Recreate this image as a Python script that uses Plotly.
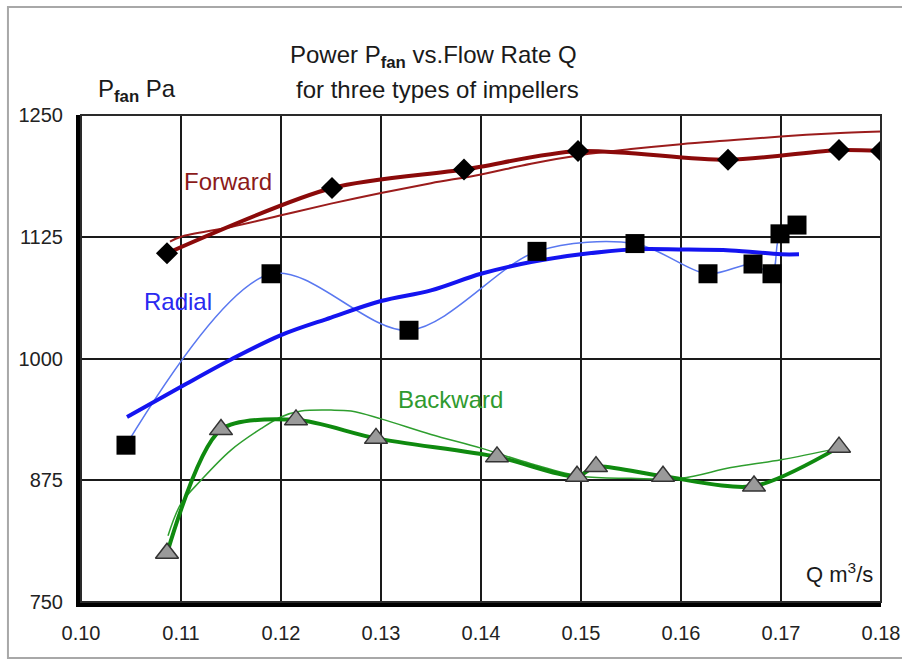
import plotly.graph_objects as go

# ---------------- data ----------------
# Forward impeller (diamonds); thick line is a smooth curve through the points
fwd_q = [0.1086, 0.1251, 0.1383, 0.1497, 0.1647, 0.1758, 0.1800]
fwd_p = [1108, 1175, 1194, 1213, 1204, 1214, 1213]
# Forward thin trend curve
fwd_tr_q = [0.1089, 0.110, 0.115, 0.120, 0.125, 0.130, 0.135, 0.140, 0.145, 0.150,
            0.155, 0.160, 0.165, 0.170, 0.175, 0.180]
fwd_tr_p = [1120, 1125, 1135, 1147, 1159, 1170, 1180, 1189, 1200, 1209,
            1215, 1220, 1224, 1228, 1231, 1233]

# Radial impeller (squares); thin line is a smooth curve through the points
rad_q = [0.1045, 0.1190, 0.1328, 0.1456, 0.1554, 0.1627, 0.1672, 0.1691, 0.1699, 0.1716]
rad_p = [911, 1087, 1029, 1110, 1118, 1087, 1097, 1087, 1128, 1137]
# Radial thick trend curve
rad_tr_q = [0.1046, 0.110, 0.115, 0.120, 0.125, 0.130, 0.135, 0.140, 0.145, 0.150,
            0.155, 0.160, 0.165, 0.170, 0.1718]
rad_tr_p = [940, 971, 999, 1024, 1042, 1059, 1070, 1087, 1099, 1107,
            1112, 1112, 1111, 1107, 1107]

# Backward impeller (triangles); thick line is a smooth curve through the points
bwd_q = [0.1086, 0.1140, 0.1215, 0.1295, 0.1416, 0.1496, 0.1515, 0.1582, 0.1673, 0.1758]
bwd_p = [800, 927, 937, 918, 899, 879, 889, 879, 869, 909]
# Backward thin trend curve
bwd_tr_q = [0.1087, 0.110, 0.112, 0.115, 0.118, 0.120, 0.122, 0.125, 0.127, 0.130,
            0.135, 0.140, 0.145, 0.150, 0.155, 0.160, 0.165, 0.170, 0.1758]
bwd_tr_p = [818, 851, 875, 906, 928, 940, 946, 947, 946, 938,
            922, 908, 892, 879, 877, 877, 888, 896, 908]

x_ticks = [0.10, 0.11, 0.12, 0.13, 0.14, 0.15, 0.16, 0.17, 0.18]
x_tick_text = ["0.10", "0.11", "0.12", "0.13", "0.14", "0.15", "0.16", "0.17", "0.18"]
y_ticks = [750, 875, 1000, 1125, 1250]

FONT = "Liberation Sans, Arial, sans-serif"
FWD = "#8b0a0a"
FWD_THIN = "#9b1c1c"
RAD = "#1414f0"
RAD_THIN = "#5a78f0"
BWD = "#0f8a0f"
BWD_THIN = "#2e9e2e"

fig = go.Figure()

# Forward
fig.add_trace(go.Scatter(x=fwd_tr_q, y=fwd_tr_p, mode="lines",
                         line=dict(color=FWD_THIN, width=2, shape="spline", smoothing=1)))
fig.add_trace(go.Scatter(x=fwd_q, y=fwd_p, mode="lines",
                         line=dict(color=FWD, width=4, shape="spline", smoothing=0.8)))
fig.add_trace(go.Scatter(x=fwd_q, y=fwd_p, mode="markers",
                         marker=dict(symbol="diamond", size=17, color="black",
                                     line=dict(width=0))))

# Radial
fig.add_trace(go.Scatter(x=rad_q, y=rad_p, mode="lines",
                         line=dict(color=RAD_THIN, width=1.5, shape="spline", smoothing=0.9)))
fig.add_trace(go.Scatter(x=rad_tr_q, y=rad_tr_p, mode="lines",
                         line=dict(color=RAD, width=4, shape="spline", smoothing=1)))
fig.add_trace(go.Scatter(x=rad_q, y=rad_p, mode="markers",
                         marker=dict(symbol="square", size=19, color="black",
                                     line=dict(width=0))))

# Backward
fig.add_trace(go.Scatter(x=bwd_tr_q, y=bwd_tr_p, mode="lines",
                         line=dict(color=BWD_THIN, width=1.5, shape="spline", smoothing=1)))
fig.add_trace(go.Scatter(x=bwd_q, y=bwd_p, mode="lines",
                         line=dict(color=BWD, width=4, shape="spline", smoothing=0.8)))
fig.add_trace(go.Scatter(x=bwd_q, y=bwd_p, mode="markers",
                         marker=dict(symbol="triangle-up", size=20, color="#9a9a9a",
                                     line=dict(width=1.5, color="#333333"))))

def label(text, x, y, size=24, color="#1a1a1a", xanchor="center"):
    return dict(text=text, xref="paper", yref="paper", x=x, y=y,
                xanchor=xanchor, yanchor="middle", showarrow=False,
                font=dict(size=size, color=color))

fig.update_layout(
    width=902, height=660, autosize=False,
    margin=dict(l=81, r=21, t=115, b=58, autoexpand=False),
    paper_bgcolor="white", plot_bgcolor="white",
    showlegend=False,
    font=dict(family=FONT, size=20, color="#1a1a1a"),
    xaxis=dict(range=[0.10, 0.18], tickvals=x_ticks, ticktext=x_tick_text,
               showgrid=True, gridcolor="#1a1a1a", gridwidth=2,
               showline=True, linecolor="black", linewidth=5,
               zeroline=False, ticks="", ticklabelstandoff=9, automargin=False,
               tickfont=dict(size=20, color="#222222")),
    yaxis=dict(range=[750, 1250], tickvals=y_ticks,
               showgrid=True, gridcolor="#1a1a1a", gridwidth=2,
               showline=True, linecolor="black", linewidth=5,
               zeroline=False, ticks="", ticklabelstandoff=9, automargin=False,
               tickfont=dict(size=20, color="#222222")),
    shapes=[
        dict(type="rect", xref="paper", yref="paper", x0=0, x1=1, y0=0, y1=1,
             line=dict(color="#2a2a2a", width=2), layer="above"),
        dict(type="rect", xref="paper", yref="paper", x0=-0.0913, x1=1.03,
             y0=-0.115, y1=1.2218, line=dict(color="#a8a8a8", width=2)),
    ],
    annotations=[
        label("Power P<sub><b>fan</b></sub> vs.Flow Rate Q", 0.441, 1.12),
        label("for three types of impellers", 0.446, 1.053),
        label("P<sub><b>fan</b></sub> Pa", 0.0706, 1.05),
        label("Q m<sup>3</sup>/s", 0.9925, 0.0595, size=22, xanchor="right"),
        label("Forward", 0.184, 0.863, color="#8b1a1a"),
        label("Radial", 0.121, 0.617, color="#2a2af0"),
        label("Backward", 0.462, 0.416, color="#2f9a2f"),
    ],
)

fig.write_html("out.html", config={"displayModeBar": False},
               post_script="document.body.style.margin='0px';")
